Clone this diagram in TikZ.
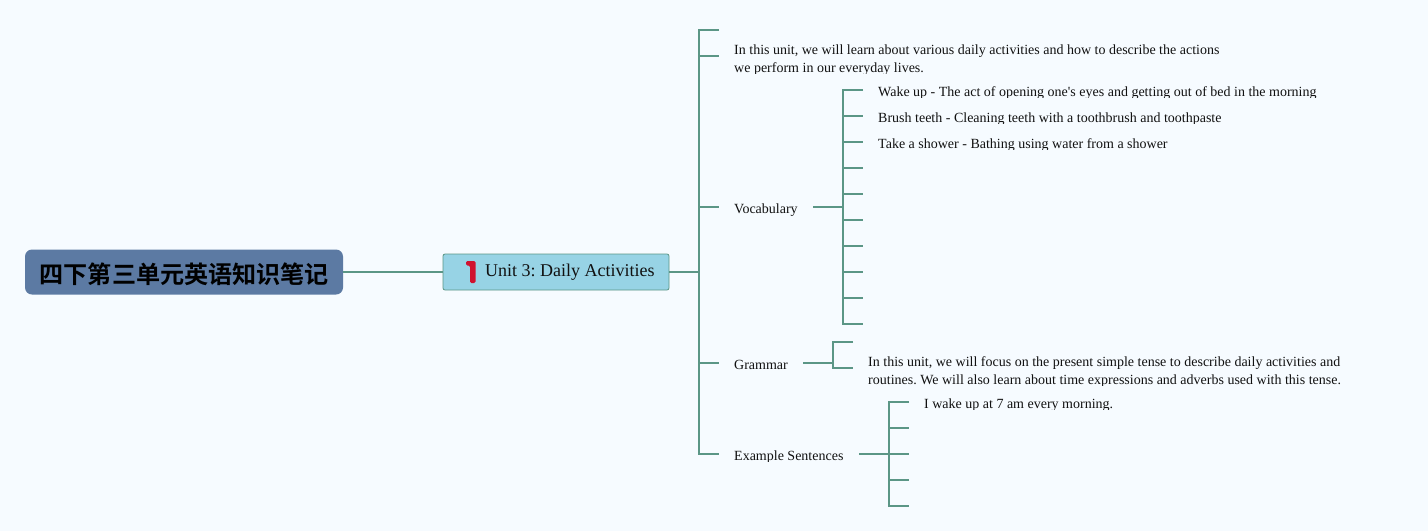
\documentclass[tikz,border=0pt]{standalone}
\usepackage{fontspec}
\setmainfont{Liberation Serif}
\newfontfamily\plainserif{Liberation Serif}
\newfontfamily\cjk{Noto Sans CJK SC}[BoldFont={Noto Sans CJK SC Bold}]
\definecolor{bgc}{HTML}{F6FBFF}
\definecolor{linec}{HTML}{5B9686}
\definecolor{titlec}{HTML}{5C7AA3}
\definecolor{unitc}{HTML}{97D3E5}
\definecolor{redc}{HTML}{D0122F}
\definecolor{txt}{HTML}{111111}
\tikzset{
  x=1pt,y=-1pt,
  conn/.style={draw=linec,line width=2pt,line cap=butt,line join=miter},
  leaf/.style={anchor=base west,inner sep=0pt,font=\plainserif\frenchspacing\fontsize{14}{18}\selectfont,text=txt,align=left},
  titlebox/.style={draw=none,fill=titlec,rounded corners=7pt,minimum width=318pt,minimum height=45pt,inner sep=0pt},
  titletext/.style={inner sep=0pt,font=\cjk\bfseries\fontsize{24.1}{28}\selectfont,text=black},
  unitbox/.style={draw=linec,line width=0.8pt,fill=unitc,rounded corners=2pt,minimum width=226pt,minimum height=36pt,inner sep=0pt},
}
% text whose lowest pixels are cut at a given y: #1 x, #2 baseline, #3 cut y, #4 name, #5 text
\newcommand{\cuttext}[5]{\begin{scope}\clip (#1-4,#2-16) rectangle (1428,#3);\node[leaf] (#4) at (#1,#2) {#5};\end{scope}}
\begin{document}
\begin{tikzpicture}
\useasboundingbox (0,0) rectangle (1428,531);
\fill[bgc] (0,0) rectangle (1428,531);
% hub coordinates
\coordinate (h0) at (699,272);
\coordinate (t1) at (719,30);
\coordinate (t2) at (719,56);
\coordinate (t3) at (719,207);
\coordinate (t4) at (719,363);
\coordinate (t5) at (719,454);
\coordinate (v0) at (813,207);
\coordinate (g0) at (803,363);
\coordinate (e0) at (859,454);
% main nodes
\node[titlebox] (title) at (184,272) {};
\node[titletext] (titlelabel) at (184.3,274) {四下第三单元英语知识笔记};
\node[unitbox] (unit) at (556,272) {};
\node[anchor=base west,inner sep=0pt,font=\plainserif\frenchspacing\fontsize{18}{22}\selectfont,text=txt] (unittext) at (485,276) {Unit 3: Daily Activities};
\fill[redc,rounded corners=1.4pt] (466,261) -- (475.5,261) -- (475.5,283) -- (470,283) -- (470,265.5) -- (466,265.5) -- cycle;
% connectors, first level
\draw[conn] (title.east) -- (unit.west);
\draw[conn] (unit.east) -- (h0);
\draw[conn] (t1) -| (h0) |- (t5);
\draw[conn] (h0 |- t2) -- (t2);
\draw[conn] (h0 |- t3) -- (t3);
\draw[conn] (h0 |- t4) -- (t4);
% vocabulary branch
\foreach \n/\y in {1/90,2/116,3/142,4/168,5/194,6/220,7/246,8/272,9/298,10/324}{\coordinate (va\n) at (863,\y);}
\draw[conn] (v0) -- (843,207);
\draw[conn] (va1) -| (843,324) -- (va10);
\foreach \n in {2,...,9}{\draw[conn] (843,0 |- va\n) -- (va\n);}
% grammar branch
\coordinate (ga1) at (853,342);
\coordinate (ga2) at (853,368);
\draw[conn] (g0) -- (833,363);
\draw[conn] (ga1) -| (833,368) -- (ga2);
% example branch
\foreach \n/\y in {1/402,2/428,3/454,4/480,5/506}{\coordinate (ea\n) at (909,\y);}
\draw[conn] (e0) -- (889,454);
\draw[conn] (ea1) -| (889,506) -- (ea5);
\foreach \n in {2,3,4}{\draw[conn] (889,0 |- ea\n) -- (ea\n);}
% texts
\node[leaf] (intro1) at (734,54) {In this unit, we will learn about various daily activities and how to describe the actions};
\cuttext{734}{72}{73.5}{intro2}{we perform in our everyday lives.}
\cuttext{734}{213}{215}{voclabel}{Vocabulary}
\cuttext{878}{96}{97.5}{w1}{Wake up - The act of opening one's eyes and getting out of bed in the morning}
\cuttext{878}{122}{123.5}{w2}{Brush teeth - Cleaning teeth with a toothbrush and toothpaste}
\cuttext{878}{148}{149.5}{w3}{Take a shower - Bathing using water from a shower}
\cuttext{734}{369}{371}{gl}{Grammar}
\node[leaf] (g1) at (868,366) {In this unit, we will focus on the present simple tense to describe daily activities and};
\cuttext{868}{384}{385.5}{g2}{routines. We will also learn about time expressions and adverbs used with this tense.}
\cuttext{924}{408}{409.5}{e1}{I wake up at 7 am every morning.}
\cuttext{734}{460}{461.5}{el}{Example Sentences}
\end{tikzpicture}
\end{document}
